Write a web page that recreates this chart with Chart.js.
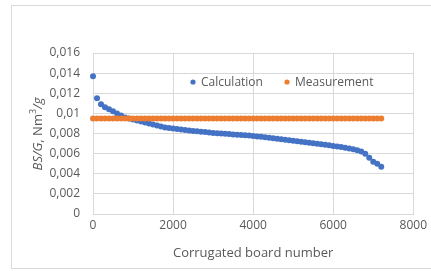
<!DOCTYPE html>
<html>
<head>
<meta charset="utf-8">
<script src="https://cdn.jsdelivr.net/npm/chart.js@4/dist/chart.umd.min.js"></script>
<style>
    html, body { margin: 0; padding: 0; background: #fff; }
    #wrap { width: 431px; height: 271px; position: relative; }
</style>
</head>
<body>
<div id="wrap"><canvas id="bsChart" width="431" height="271"></canvas></div>
<script>
// board numbers (x)
const BOARD_NUMBERS = [
    0, 100, 200, 300, 400, 500, 600, 700, 800, 900,
    1000, 1100, 1200, 1300, 1400, 1500, 1600, 1700, 1800, 1900,
    2000, 2100, 2200, 2300, 2400, 2500, 2600, 2700, 2800, 2900,
    3000, 3100, 3200, 3300, 3400, 3500, 3600, 3700, 3800, 3900,
    4000, 4100, 4200, 4300, 4400, 4500, 4600, 4700, 4800, 4900,
    5000, 5100, 5200, 5300, 5400, 5500, 5600, 5700, 5800, 5900,
    6000, 6100, 6200, 6300, 6400, 6500, 6600, 6700, 6800, 6900,
    7000, 7100, 7200
];

// BS/G values
const CALCULATION = [
    0.0137, 0.0115, 0.0109, 0.0106, 0.0104, 0.0102, 0.0100, 0.0098, 0.0096, 0.0095,
    0.0094, 0.0093, 0.0092, 0.0091, 0.0090, 0.0089, 0.0088, 0.0087, 0.0086, 0.00855,
    0.0085, 0.00845, 0.0084, 0.00835, 0.0083, 0.00826, 0.00822, 0.00818, 0.00814, 0.0081,
    0.00806, 0.00803, 0.0080, 0.00797, 0.00794, 0.00791, 0.00788, 0.00785, 0.00782, 0.00779,
    0.00776, 0.00771, 0.00767, 0.00762, 0.00757, 0.00753, 0.00748, 0.00743, 0.00738, 0.00733,
    0.00728, 0.00723, 0.00718, 0.00713, 0.00708, 0.00703, 0.00698, 0.00693, 0.00688, 0.00683,
    0.00677, 0.00671, 0.00665, 0.00659, 0.00652, 0.00644, 0.00634, 0.0062, 0.0060, 0.0056,
    0.0052, 0.0050, 0.0047
];

const MEASUREMENT = [
    0.0095, 0.0095, 0.0095, 0.0095, 0.0095, 0.0095, 0.0095, 0.0095, 0.0095, 0.0095,
    0.0095, 0.0095, 0.0095, 0.0095, 0.0095, 0.0095, 0.0095, 0.0095, 0.0095, 0.0095,
    0.0095, 0.0095, 0.0095, 0.0095, 0.0095, 0.0095, 0.0095, 0.0095, 0.0095, 0.0095,
    0.0095, 0.0095, 0.0095, 0.0095, 0.0095, 0.0095, 0.0095, 0.0095, 0.0095, 0.0095,
    0.0095, 0.0095, 0.0095, 0.0095, 0.0095, 0.0095, 0.0095, 0.0095, 0.0095, 0.0095,
    0.0095, 0.0095, 0.0095, 0.0095, 0.0095, 0.0095, 0.0095, 0.0095, 0.0095, 0.0095,
    0.0095, 0.0095, 0.0095, 0.0095, 0.0095, 0.0095, 0.0095, 0.0095, 0.0095, 0.0095,
    0.0095, 0.0095, 0.0095
];

const SERIES_LABELS = ['Calculation', 'Measurement'];
const X_TITLE = 'Corrugated board number';

const BLUE = '#4472C4';
const ORANGE = '#ED7D31';
const GRID = '#d9d9d9';
const TEXT = '#595959';
const FONT = '"Open Sans", "Liberation Sans", sans-serif';

const toPoints = (ys) => BOARD_NUMBERS.map((x, i) => ({ x, y: ys[i] }));

// outer frame of the chart object
const framePlugin = {
    id: 'frame',
    beforeDraw(chart) {
        const c = chart.ctx;
        c.save();
        c.fillStyle = '#fff';
        c.fillRect(0, 0, chart.width, chart.height);
        c.strokeStyle = GRID;
        c.lineWidth = 1;
        c.strokeRect(11.5, 5.5, 422, 263);
        c.restore();
    }
};

// legend drawn inside the plot area, Excel-style
const innerLegend = {
    id: 'innerLegend',
    afterDraw(chart) {
        const c = chart.ctx, a = chart.chartArea;
        const items = [
            { x: a.left + 100, color: BLUE, text: SERIES_LABELS[0] },
            { x: a.left + 194, color: ORANGE, text: SERIES_LABELS[1] }
        ];
        const y = a.top + 29;
        c.save();
        c.font = '12px ' + FONT;
        c.textBaseline = 'middle';
        items.forEach(it => {
            c.fillStyle = it.color;
            c.beginPath();
            c.arc(it.x, y, 2.6, 0, Math.PI * 2);
            c.fill();
            c.fillStyle = TEXT;
            c.fillText(it.text, it.x + 8, y + 1);
        });
        c.restore();
    }
};

// y title with mixed italic / superscript
const yTitle = {
    id: 'yTitle',
    afterDraw(chart) {
        const c = chart.ctx;
        const parts = [
            { t: 'BS/G', f: 'italic 13px ' + FONT, dy: 0 },
            { t: ', Nm', f: '13px ' + FONT, dy: 0 },
            { t: '3', f: '9px ' + FONT, dy: -5 },
            { t: '/g', f: 'italic 13px ' + FONT, dy: 0 }
        ];
        c.save();
        let total = 0;
        parts.forEach(p => { c.font = p.f; p.w = c.measureText(p.t).width; total += p.w; });
        c.translate(38, 134);
        c.rotate(-Math.PI / 2);
        c.fillStyle = TEXT;
        c.textBaseline = 'middle';
        let x = -total / 2;
        parts.forEach(p => {
            c.font = p.f;
            c.fillText(p.t, x, p.dy);
            x += p.w;
        });
        c.restore();
    }
};

new Chart(document.getElementById('bsChart'), {
    type: 'scatter',
    data: {
        datasets: [
            { label: SERIES_LABELS[0], data: toPoints(CALCULATION), backgroundColor: BLUE, borderWidth: 0, pointRadius: 3, clip: false, order: 2 },
            { label: SERIES_LABELS[1], data: toPoints(MEASUREMENT), backgroundColor: ORANGE, borderWidth: 0, pointRadius: 3, clip: false, order: 1 }
        ]
    },
    options: {
        responsive: false,
        animation: false,
        layout: { padding: { top: 53, right: 17, left: 0, bottom: 6 } },
        plugins: { legend: { display: false }, tooltip: { enabled: false } },
        scales: {
            x: {
                type: 'linear', min: 0, max: 8000,
                ticks: {
                    stepSize: 2000, padding: 4, color: TEXT, font: { family: FONT, size: 12 },
                    callback: (v) => String(v)
                },
                grid: { color: GRID, drawTicks: false },
                border: { color: GRID },
                title: { display: true, text: X_TITLE, color: TEXT, font: { family: FONT, size: 13 }, padding: { top: 4, bottom: 4 } },
                afterFit: (s) => { s.height = 51; }
            },
            y: {
                min: 0, max: 0.016,
                ticks: {
                    stepSize: 0.002, padding: 13, color: TEXT, font: { family: FONT, size: 12 },
                    callback: (v) => String(Math.round(v * 1000) / 1000).replace('.', ',')
                },
                grid: { color: GRID, drawTicks: false },
                border: { color: GRID },
                afterFit: (s) => { s.width = 93; }
            }
        }
    },
    plugins: [framePlugin, innerLegend, yTitle]
});
</script>
</body>
</html>
